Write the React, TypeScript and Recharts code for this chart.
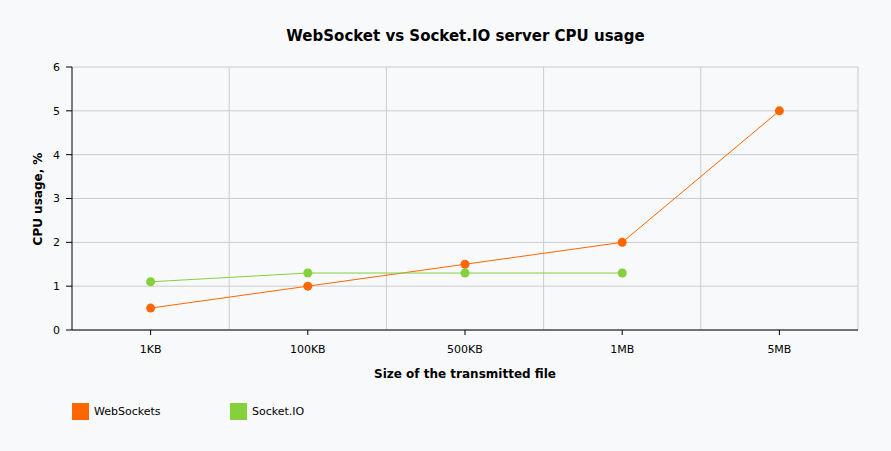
import React from "react";
import { LineChart, Line, XAxis, YAxis, CartesianGrid } from "recharts";

const categories = ["1KB", "100KB", "500KB", "1MB", "5MB"];
const webSocketsValues = [0.5, 1, 1.5, 2, 5];
const socketIoValues: (number | null)[] = [1.1, 1.3, 1.3, 1.3, null];
const yTicks = [0, 1, 2, 3, 4, 5, 6];

const data = categories.map((c, i) => ({
  name: c,
  ws: webSocketsValues[i],
  sio: socketIoValues[i],
}));

const ORANGE = "#ff6600";
const GREEN = "#84d13c";
const FONT = "'DejaVu Sans', Verdana, sans-serif";

export default function App() {
  return (
    <div
      style={{
        position: "fixed",
        left: 0,
        top: 0,
        width: 891,
        height: 451,
        background: "#f8f9fb",
        fontFamily: FONT,
      }}
    >
      <div
        style={{
          position: "absolute",
          left: 0,
          width: 931,
          top: 27,
          textAlign: "center",
          fontSize: 15,
          fontWeight: "bold",
          color: "#000",
        }}
      >
        WebSocket vs Socket.IO server CPU usage
      </div>
      <LineChart
        width={891}
        height={451}
        data={data}
        margin={{ top: 67, right: 33, bottom: 91, left: 0 }}
      >
        <CartesianGrid
          stroke="#cccccc"
          verticalCoordinatesGenerator={({ offset }: any) =>
            categories.map((_, i) => offset.left + ((i + 1) * offset.width) / categories.length)
          }
        />
        <XAxis
          dataKey="name"
          scale="band"
          height={30}
          tickSize={5}
          tickMargin={10}
          stroke="#000"
          tick={{ fill: "#000", fontSize: 11, fontFamily: FONT }}
        />
        <YAxis
          width={72}
          domain={[0, 6]}
          ticks={yTicks}
          tickSize={6}
          tickMargin={6}
          stroke="#000"
          tick={{ fill: "#000", fontSize: 11, fontFamily: FONT }}
        />
        <Line
          dataKey="ws"
          stroke={ORANGE}
          strokeWidth={1}
          dot={{ r: 4.5, fill: ORANGE, stroke: "none" }}
          isAnimationActive={false}
        />
        <Line
          dataKey="sio"
          stroke={GREEN}
          strokeWidth={1}
          dot={{ r: 4.5, fill: GREEN, stroke: "none" }}
          isAnimationActive={false}
        />
      </LineChart>
      <div
        style={{
          position: "absolute",
          left: 38,
          top: 199,
          transform: "translate(-50%, -50%) rotate(-90deg)",
          fontSize: 12,
          fontWeight: "bold",
          whiteSpace: "nowrap",
        }}
      >
        CPU usage, %
      </div>
      <div
        style={{
          position: "absolute",
          left: 72,
          width: 786,
          top: 367,
          textAlign: "center",
          fontSize: 12,
          fontWeight: "bold",
        }}
      >
        Size of the transmitted file
      </div>
      <div style={{ position: "absolute", left: 72, top: 403, display: "flex", fontSize: 11 }}>
        <div style={{ display: "flex", alignItems: "center", width: 158 }}>
          <span style={{ width: 17, height: 17, background: ORANGE, display: "inline-block", marginRight: 5 }} />
          <span>WebSockets</span>
        </div>
        <div style={{ display: "flex", alignItems: "center" }}>
          <span style={{ width: 17, height: 17, background: GREEN, display: "inline-block", marginRight: 5 }} />
          <span>Socket.IO</span>
        </div>
      </div>
    </div>
  );
}
